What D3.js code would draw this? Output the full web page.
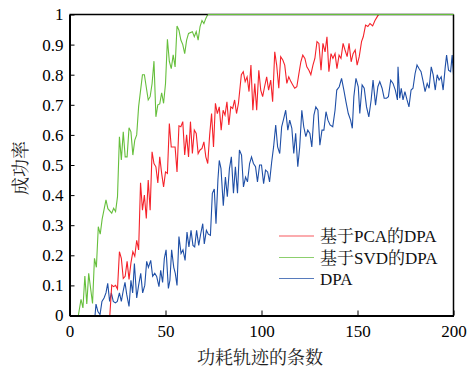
<!DOCTYPE html>
<html>
<head>
<meta charset="utf-8">
<script src="https://cdn.jsdelivr.net/npm/d3@7"></script>
<style>
  body { margin: 0; background: #fff; }
</style>
</head>
<body>
<div id="chart"></div>
<script>
const serifFont = "'Liberation Serif', 'Times New Roman', 'Noto Serif CJK SC', serif";

// axis ticks
const xTicks = [0, 50, 100, 150, 200];
const yTicks = [0, 0.1, 0.2, 0.3, 0.4, 0.5, 0.6, 0.7, 0.8, 0.9, 1];
const yTickLabels = ['0', '0.1', '0.2', '0.3', '0.4', '0.5', '0.6', '0.7', '0.8', '0.9', '1'];

// 基于SVD的DPA (green)
const svdX = [1, 4.6, 6, 7, 8, 9, 10, 12, 13, 14, 15, 16, 17, 19, 20, 22, 23, 24, 25, 26, 27, 28, 29, 30, 31, 32, 33, 34, 35, 36, 38, 39, 41, 42, 43, 44, 45, 46, 47, 48, 49, 50, 51, 52, 53, 54, 55, 56, 57, 58, 59, 60, 61, 62, 64, 65, 66, 67, 68, 69, 70, 71, 72, 200];
const svdY = [0, 0, 0.054, 0.025, 0.131, 0.038, 0.14, 0.04, 0.19, 0.16, 0.295, 0.27, 0.32, 0.384, 0.355, 0.34, 0.356, 0.345, 0.395, 0.594, 0.517, 0.61, 0.527, 0.527, 0.624, 0.61, 0.533, 0.583, 0.6, 0.694, 0.8, 0.8, 0.716, 0.727, 0.77, 0.845, 0.66, 0.7, 0.703, 0.74, 0.705, 0.77, 0.918, 0.844, 0.82, 0.866, 0.826, 0.962, 0.948, 0.915, 0.9, 0.87, 0.915, 0.937, 0.943, 0.926, 0.943, 0.915, 0.96, 0.98, 0.97, 0.987, 1, 1];

// 基于PCA的DPA (red)
const pcaX = [1, 21, 22, 23, 24, 25, 26, 27, 28, 29, 30, 31, 32, 33, 34, 35, 36, 37, 38, 39, 40, 41, 42, 43, 44, 45, 46, 47, 48, 49, 50, 51, 52, 53, 54, 55, 56, 57, 58, 59, 60, 61, 62, 63, 64, 65, 66, 67, 68, 69, 70, 71, 72, 73, 74, 75, 76, 77, 78, 79, 80, 81, 82, 83, 84, 85, 86, 87, 88, 89.5, 90.5, 91.5, 92.5, 93.5, 94.5, 95.5, 96.5, 97.5, 98.6, 99.6, 100.6, 101.6, 102.7, 103.7, 104.8, 105.8, 106.9, 107.9, 109, 110, 111.1, 112.1, 113.2, 114.2, 115.3, 116.3, 117.3, 118.4, 119.4, 120.5, 121.5, 122.6, 123.6, 124.7, 125.7, 126.8, 127.8, 128.9, 129.9, 131, 132, 133.1, 134.1, 135.1, 136.2, 137.2, 138.3, 139.3, 140.4, 141.4, 142.5, 143.5, 144.6, 145.6, 146.7, 147.7, 148.8, 149.8, 150.9, 152.1, 153, 154.2, 155.4, 156.5, 157.9, 159.1, 160.3, 161, 200];
const pcaY = [0, 0, 0.101, 0.096, 0.1, 0.088, 0.212, 0.19, 0.123, 0.13, 0.18, 0.12, 0.175, 0.212, 0.197, 0.25, 0.218, 0.441, 0.35, 0.4, 0.322, 0.45, 0.35, 0.544, 0.505, 0.494, 0.44, 0.527, 0.472, 0.427, 0.477, 0.472, 0.638, 0.56, 0.56, 0.56, 0.477, 0.63, 0.627, 0.644, 0.533, 0.6, 0.527, 0.644, 0.538, 0.616, 0.605, 0.538, 0.55, 0.555, 0.577, 0.527, 0.505, 0.6, 0.671, 0.56, 0.705, 0.671, 0.693, 0.616, 0.682, 0.666, 0.71, 0.633, 0.693, 0.688, 0.716, 0.671, 0.705, 0.8, 0.81, 0.777, 0.793, 0.744, 0.832, 0.682, 0.771, 0.682, 0.815, 0.749, 0.727, 0.76, 0.793, 0.749, 0.782, 0.71, 0.876, 0.832, 0.755, 0.86, 0.849, 0.832, 0.771, 0.793, 0.777, 0.766, 0.755, 0.76, 0.8, 0.843, 0.865, 0.854, 0.826, 0.815, 0.8, 0.832, 0.854, 0.91, 0.904, 0.815, 0.904, 0.876, 0.926, 0.81, 0.87, 0.854, 0.87, 0.82, 0.865, 0.854, 0.904, 0.882, 0.86, 0.904, 0.843, 0.87, 0.882, 0.832, 0.86, 0.91, 0.926, 0.965, 0.96, 0.97, 0.962, 0.98, 0.993, 1, 1];

// DPA (blue)
const dpaX = [1, 13.3, 13.8, 14.8, 15.9, 16.9, 18, 19, 19.9, 20.9, 21.8, 22.8, 23.9, 24.9, 26, 27, 28, 28.9, 29.8, 31, 32, 32.9, 33.8, 35, 36, 37.1, 38.1, 39.2, 40.2, 41.1, 42.3, 43.3, 44.4, 45.4, 46.6, 47.5, 48.5, 49.4, 50.3, 51.5, 52.3, 53.2, 54.3, 55.1, 56, 57, 58.1, 59.1, 60.2, 61.2, 62.2, 63.3, 64.3, 65.2, 66.2, 67.3, 68.3, 69.4, 70.2, 71.3, 72.3, 73.4, 74.4, 75.4, 76.3, 77.3, 78, 78.9, 80.1, 81.2, 82.2, 83.3, 84.3, 85.4, 86.4, 87.5, 88.5, 89.6, 90.6, 91.7, 92.7, 93.8, 94.8, 95.8, 96.9, 97.9, 99, 100, 101.1, 102.1, 103.2, 104.2, 105.3, 106.3, 107.4, 108.4, 109.5, 110.5, 111.6, 112.6, 113.7, 114.7, 115.8, 116.8, 117.8, 118.9, 119.9, 121, 122, 123.1, 124.1, 125.2, 126.2, 127.3, 128.3, 129.4, 130.4, 131.5, 132.5, 133.6, 134.6, 135.7, 137.1, 138.3, 139.2, 140.5, 141.7, 142.9, 144, 145.2, 146.4, 147.3, 148.1, 149.2, 150.4, 151.2, 152.4, 153.5, 154.7, 155.9, 157.1, 158.1, 159.4, 160.6, 161.6, 162.8, 163.9, 165.1, 166.1, 167.3, 168.5, 169.7, 170.8, 171.1, 172, 172.8, 173.7, 174.7, 175.8, 176.8, 177.9, 178.9, 180, 181, 182.1, 183.1, 184.2, 185.2, 186.3, 187.3, 188.4, 189.4, 190.5, 191.5, 192.5, 193.6, 194.6, 195.7, 196.4, 197.4, 198.5, 199.3, 200];
const dpaY = [0, 0, 0.038, 0.013, 0.003, 0.047, 0.058, 0.075, 0.107, 0.047, 0.075, 0.047, 0.042, 0.047, 0.075, 0.047, 0.083, 0.11, 0.07, 0.03, 0.117, 0.075, 0.173, 0.058, 0.1, 0.14, 0.075, 0.1, 0.18, 0.16, 0.183, 0.13, 0.14, 0.13, 0.096, 0.15, 0.11, 0.19, 0.218, 0.09, 0.117, 0.218, 0.16, 0.14, 0.1, 0.262, 0.206, 0.218, 0.183, 0.277, 0.228, 0.283, 0.233, 0.228, 0.283, 0.233, 0.27, 0.305, 0.238, 0.283, 0.27, 0.266, 0.406, 0.42, 0.305, 0.45, 0.515, 0.488, 0.365, 0.46, 0.395, 0.488, 0.527, 0.406, 0.494, 0.406, 0.55, 0.533, 0.427, 0.46, 0.444, 0.505, 0.527, 0.505, 0.494, 0.444, 0.5, 0.5, 0.438, 0.483, 0.477, 0.444, 0.51, 0.56, 0.633, 0.56, 0.538, 0.627, 0.655, 0.682, 0.616, 0.649, 0.622, 0.538, 0.605, 0.494, 0.56, 0.682, 0.627, 0.594, 0.616, 0.605, 0.56, 0.666, 0.693, 0.682, 0.566, 0.616, 0.616, 0.677, 0.649, 0.633, 0.627, 0.682, 0.749, 0.76, 0.788, 0.749, 0.71, 0.671, 0.649, 0.622, 0.727, 0.788, 0.76, 0.671, 0.766, 0.755, 0.693, 0.66, 0.716, 0.782, 0.699, 0.76, 0.777, 0.755, 0.722, 0.722, 0.727, 0.782, 0.771, 0.749, 0.716, 0.826, 0.722, 0.755, 0.716, 0.744, 0.716, 0.693, 0.749, 0.755, 0.804, 0.832, 0.82, 0.81, 0.777, 0.744, 0.771, 0.755, 0.826, 0.8, 0.749, 0.8, 0.782, 0.793, 0.749, 0.826, 0.865, 0.815, 0.81, 0.865, 0.8];

const series = [
  { name: '基于PCA的DPA', color: '#f5222a', xs: pcaX, ys: pcaY },
  { name: '基于SVD的DPA', color: '#66bf3c', xs: svdX, ys: svdY },
  { name: 'DPA', color: '#1f4fa6', xs: dpaX, ys: dpaY }
];

const width = 467, height = 369;
const svg = d3.select('#chart').append('svg')
  .attr('width', width)
  .attr('height', height)
  .attr('font-family', serifFont);

const x = d3.scaleLinear().domain([0, 200]).range([69.5, 453.5]);
const y = d3.scaleLinear().domain([0, 1]).range([315.5, 14.5]);

// lines (blue first so green/red sit on top like the reference)
const line = d3.line().x(d => x(d[0])).y(d => y(d[1]));
[series[2], series[0], series[1]].forEach(s => {
  svg.append('path')
    .datum(s.xs.map((v, i) => [v, s.ys[i]]))
    .attr('fill', 'none')
    .attr('stroke', s.color)
    .attr('stroke-width', 1.1)
    .attr('d', line);
});

// box: top and right
svg.append('line')
  .attr('x1', x(0)).attr('x2', x(200))
  .attr('y1', y(1)).attr('y2', y(1))
  .attr('stroke', '#000').attr('stroke-width', 1.3);
svg.append('line')
  .attr('x1', x(200)).attr('x2', x(200))
  .attr('y1', y(1)).attr('y2', y(0))
  .attr('stroke', '#000').attr('stroke-width', 1.5);

// green again on the top border
svg.append('path')
  .datum(series[1].xs.map((v, i) => [v, series[1].ys[i]]).filter(d => d[0] >= 72))
  .attr('fill', 'none')
  .attr('stroke', series[1].color)
  .attr('stroke-width', 1.1)
  .attr('d', line);

const xAxis = svg.append('g')
  .attr('transform', `translate(0,${y(0)})`)
  .call(d3.axisBottom(x).tickValues(xTicks).tickSizeInner(-5).tickSizeOuter(0).tickPadding(9));

const yAxis = svg.append('g')
  .attr('transform', `translate(${x(0)},0)`)
  .call(d3.axisLeft(y).tickValues(yTicks).tickFormat((d, i) => yTickLabels[i])
    .tickSizeInner(-5).tickSizeOuter(0).tickPadding(6));

[xAxis, yAxis].forEach(g => {
  g.attr('font-family', serifFont).attr('font-size', 17);
  g.select('.domain').attr('stroke', '#000').attr('stroke-width', 2);
  g.selectAll('.tick line').attr('stroke', '#000').attr('stroke-width', 1);
  g.selectAll('.tick text').attr('fill', '#000');
});

// axis titles
svg.append('text')
  .attr('x', 260)
  .attr('y', 364)
  .attr('text-anchor', 'middle')
  .attr('font-size', 18)
  .attr('fill', '#222')
  .text('功耗轨迹的条数');

svg.append('text')
  .attr('transform', 'translate(27,168) rotate(-90)')
  .attr('text-anchor', 'middle')
  .attr('font-size', 18)
  .attr('fill', '#222')
  .text('成功率');

// legend
const legend = svg.append('g');
const legendY = [236, 257.5, 278.5];
series.forEach((s, i) => {
  legend.append('line')
    .attr('x1', 279).attr('x2', 314)
    .attr('y1', legendY[i]).attr('y2', legendY[i])
    .attr('stroke', s.color)
    .attr('stroke-opacity', 0.75)
    .attr('stroke-width', 1.2);
  legend.append('text')
    .attr('x', 320)
    .attr('y', legendY[i] + 6)
    .attr('font-size', 17)
    .attr('fill', '#111')
    .text(s.name);
});
</script>
</body>
</html>
